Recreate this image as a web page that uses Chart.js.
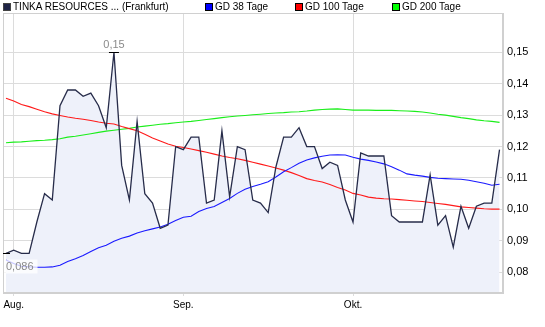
<!DOCTYPE html>
<html>
<head>
<meta charset="utf-8">
<script src="https://cdn.jsdelivr.net/npm/chart.js@4/dist/chart.umd.min.js"></script>
<style>
html,body{margin:0;padding:0;background:#fff;}
#wrap{position:relative;width:545px;height:327px;overflow:hidden;}
#c{position:absolute;left:0;top:0;}
.lg{position:absolute;top:0;height:13px;font:10px 'Liberation Sans',Arial,sans-serif;line-height:13px;color:#000;white-space:nowrap;}
.lg i{position:absolute;left:0;top:3px;width:6px;height:6px;border:1px solid #000;}
.lg span{position:absolute;left:10px;top:0;}
</style>
</head>
<body>
<div id="wrap">
<canvas id="c" width="545" height="327"></canvas>
<div class="lg" style="left:3px"><i style="background:#1f2446;border-color:#444"></i><span>TINKA RESOURCES ... (Frankfurt)</span></div>
<div class="lg" style="left:205px"><i style="background:#0000ff"></i><span>GD 38 Tage</span></div>
<div class="lg" style="left:295px"><i style="background:#ff0000"></i><span>GD 100 Tage</span></div>
<div class="lg" style="left:392px"><i style="background:#00ff00"></i><span>GD 200 Tage</span></div>
</div>
<script>
// trading days (categories)
const dates = [
 '2010-07-30',
 '2010-08-02','2010-08-03','2010-08-04','2010-08-05','2010-08-06','2010-08-09','2010-08-10','2010-08-11','2010-08-12','2010-08-13',
 '2010-08-16','2010-08-17','2010-08-18','2010-08-19','2010-08-20','2010-08-23','2010-08-24','2010-08-25','2010-08-26','2010-08-27',
 '2010-08-30','2010-08-31',
 '2010-09-01','2010-09-02','2010-09-03','2010-09-06','2010-09-07','2010-09-08','2010-09-09','2010-09-10','2010-09-13','2010-09-14',
 '2010-09-15','2010-09-16','2010-09-17','2010-09-20','2010-09-21','2010-09-22','2010-09-23','2010-09-24','2010-09-27','2010-09-28',
 '2010-09-29','2010-09-30',
 '2010-10-01','2010-10-04','2010-10-05','2010-10-06','2010-10-07','2010-10-08','2010-10-11','2010-10-12','2010-10-13','2010-10-14',
 '2010-10-15','2010-10-18','2010-10-19','2010-10-20','2010-10-21','2010-10-22','2010-10-25','2010-10-26','2010-10-27','2010-10-28'
];
const monthLabels = ['Aug.','Sep.','Okt.'];

const price = [
 0.086,0.087,0.086,0.086,0.096,0.105,0.103,0.133,0.138,0.138,
 0.136,0.137,0.133,0.126,0.150,0.114,0.103,0.128,0.105,0.102,
 0.094,0.095,0.120,0.119,0.123,0.123,0.102,0.103,0.125,0.104,
 0.120,0.119,0.103,0.102,0.099,0.1135,0.123,0.123,0.126,0.120,
 0.120,0.113,0.115,0.114,0.103,0.096,0.118,0.117,0.117,0.117,
 0.098,0.096,0.096,0.096,0.096,0.111,0.095,0.098,0.088,0.101,
 0.094,0.101,0.102,0.102,0.119
];
const gd38 = [
 0.0839,0.0828,0.0819,0.0817,0.0816,0.0816,0.0817,0.0822,0.0834,0.0843,
 0.0853,0.0866,0.0878,0.0886,0.0899,0.0908,0.0915,0.0925,0.0932,0.0938,
 0.0944,0.0953,0.0965,0.0975,0.0978,0.0993,0.1003,0.1009,0.1022,0.1035,
 0.1051,0.1064,0.1073,0.1080,0.1088,0.1103,0.1120,0.1133,0.1147,0.1157,
 0.1164,0.1169,0.1173,0.1174,0.1173,0.1166,0.1160,0.1156,0.1151,0.1145,
 0.1136,0.1125,0.1113,0.1109,0.1106,0.1102,0.1099,0.1098,0.1097,0.1096,
 0.1093,0.1088,0.1083,0.1077,0.1080
];
const gd100 = [
 0.1354,0.1345,0.1334,0.1327,0.1319,0.1311,0.1304,0.1299,0.1294,0.1290,
 0.1287,0.1283,0.1278,0.1274,0.1272,0.1264,0.1257,0.1250,0.1239,0.1227,
 0.1218,0.1208,0.1201,0.1197,0.1192,0.1187,0.1182,0.1176,0.1170,0.1165,
 0.1161,0.1156,0.1150,0.1144,0.1138,0.1132,0.1125,0.1117,0.1108,0.1098,
 0.1092,0.1087,0.1079,0.1070,0.1062,0.1051,0.1046,0.1039,0.1036,0.1034,
 0.1033,0.1031,0.1029,0.1027,0.1025,0.1022,0.1019,0.1016,0.1012,0.1008,
 0.1006,0.1004,0.1002,0.1001,0.1001
];
const gd200 = [
 0.1212,0.1214,0.1215,0.1217,0.1219,0.1220,0.1222,0.1225,0.1230,0.1233,
 0.1237,0.1241,0.1245,0.1249,0.1252,0.1255,0.1258,0.1262,0.1265,0.1268,
 0.1271,0.1273,0.1276,0.1278,0.1280,0.1283,0.1286,0.1289,0.1292,0.1295,
 0.1297,0.1299,0.1301,0.1303,0.1305,0.1307,0.1308,0.1310,0.1311,0.1313,
 0.1316,0.1318,0.1319,0.1320,0.1318,0.1316,0.1316,0.1316,0.1315,0.1315,
 0.1315,0.1314,0.1313,0.1312,0.1310,0.1307,0.1303,0.1300,0.1296,0.1292,
 0.1289,0.1285,0.1282,0.1280,0.1277
];
const yTicks = [0.08,0.09,0.10,0.11,0.12,0.13,0.14,0.15];

// first trading day of each month -> x tick positions
const monthStarts = [];
dates.forEach((d,i)=>{ if(i>0 && d.slice(5,7)!==dates[i-1].slice(5,7)) monthStarts.push(i); });

const fmt = v => String(v).replace('.', ',');
const pts = arr => arr.map((v,i)=>({x:i,y:v}));

const GRID = '#dcdcdc';
const FONT = "'Liberation Sans', Arial, sans-serif";

const frame = {
  id:'frame',
  beforeDatasetsDraw(chart){
    const a = chart.chartArea, ctx = chart.ctx;
    ctx.save();
    ctx.strokeStyle = '#d0d0d0'; ctx.lineWidth = 1;
    ctx.strokeRect(Math.round(a.left)+0.5, Math.round(a.top)+0.5, Math.round(a.right-a.left)-1, Math.round(a.bottom-a.top)-1);
    ctx.restore();
  },
  afterDatasetsDraw(chart){
    const ctx = chart.ctx, xs = chart.scales.x, ys = chart.scales.y;
    const mx = Math.max(...price), mn = Math.min(...price);
    const iMax = price.indexOf(mx), iMin = price.indexOf(mn);
    ctx.save();
    // max marker
    let px = xs.getPixelForValue(iMax), py = Math.round(ys.getPixelForValue(mx))+0.5;
    ctx.strokeStyle = '#000'; ctx.lineWidth = 1;
    ctx.beginPath(); ctx.moveTo(px-5, py); ctx.lineTo(px+5, py); ctx.stroke();
    ctx.font = '11px ' + FONT; ctx.fillStyle = '#8a8a8a';
    ctx.textAlign = 'center'; ctx.textBaseline = 'bottom';
    ctx.fillText(fmt(mx), px, py-2);
    // min marker
    px = xs.getPixelForValue(iMin); py = Math.round(ys.getPixelForValue(mn))+0.5;
    ctx.beginPath(); ctx.moveTo(Math.max(px-5, chart.chartArea.left), py); ctx.lineTo(px+4, py); ctx.stroke();
    const t = fmt(mn);
    const w = ctx.measureText(t).width;
    const bx = Math.max(px-3, chart.chartArea.left+1);
    ctx.fillStyle = 'rgba(255,255,255,0.75)';
    ctx.fillRect(bx, py+6, w+6, 14);
    ctx.fillStyle = '#8a8a8a'; ctx.textAlign = 'left'; ctx.textBaseline = 'middle';
    ctx.fillText(t, bx+2, py+13.5);
    ctx.restore();
  }
};

new Chart(document.getElementById('c'), {
  type:'line',
  data:{
    datasets:[
      {label:'TINKA RESOURCES ... (Frankfurt)', data:pts(price), borderColor:'#272c4a', borderWidth:1.3,
       backgroundColor:'#eef1fa', fill:'start', pointRadius:0, tension:0, order:0},
      {label:'GD 38 Tage', data:pts(gd38), borderColor:'#1a1aff', borderWidth:1.1, pointRadius:0, fill:false, order:1},
      {label:'GD 100 Tage', data:pts(gd100), borderColor:'#ff1a1a', borderWidth:1.1, pointRadius:0, fill:false, order:2},
      {label:'GD 200 Tage', data:pts(gd200), borderColor:'#1aee1a', borderWidth:1.1, pointRadius:0, fill:false, order:3}
    ]
  },
  options:{
    responsive:false, animation:false, devicePixelRatio:1,
    layout:{padding:{left:3, top:13, right:0, bottom:0}},
    plugins:{legend:{display:false}, tooltip:{enabled:false}, filler:{drawTime:'beforeDatasetsDraw'}},
    scales:{
      x:{type:'linear', min:-0.39, max:64.45,
         afterBuildTicks:s=>{ s.ticks = monthStarts.map(v=>({value:v})); },
         afterFit:s=>{ s.height = 34; },
         ticks:{autoSkip:false, maxRotation:0, padding:3, color:'#000', font:{family:FONT, size:10},
                callback:(v)=>{ const k = monthStarts.indexOf(v); return k>=0 ? monthLabels[k] : ''; }},
         grid:{color:GRID, tickLength:3, drawTicks:true},
         border:{color:'#d0d0d0'}},
      y:{type:'linear', position:'right', min:0.0734, max:0.1625,
         afterBuildTicks:s=>{ s.ticks = yTicks.map(v=>({value:v})); },
         afterFit:s=>{ s.width = 42; },
         ticks:{padding:4, color:'#000', font:{family:FONT, size:11}, callback:v=>v.toFixed(2).replace('.', ',')},
         grid:{color:GRID, drawTicks:false},
         border:{color:'#d0d0d0'}}
    }
  },
  plugins:[frame]
});
</script>
</body>
</html>
